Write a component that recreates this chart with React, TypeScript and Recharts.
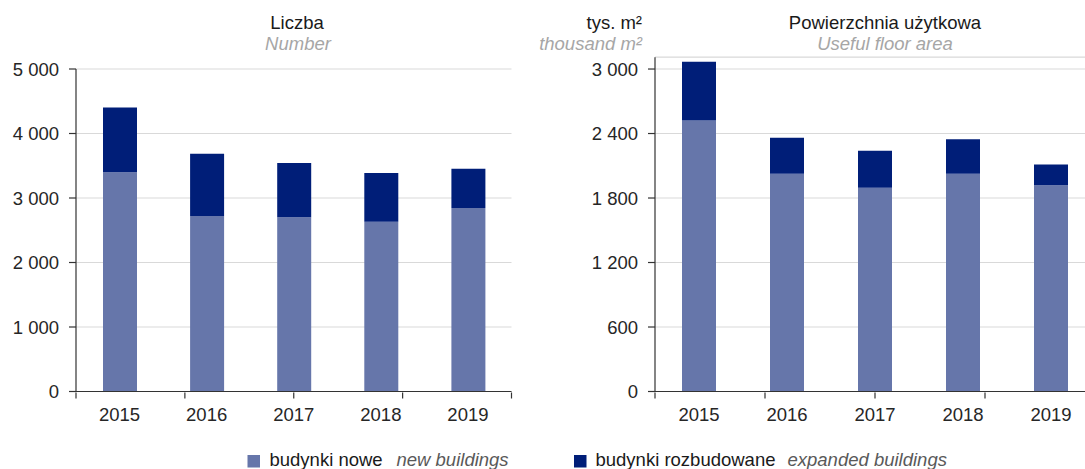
import React from 'react';
import { BarChart, Bar, XAxis, YAxis, CartesianGrid } from 'recharts';

const years = ['2015', '2016', '2017', '2018', '2019'];
const countNew = [3400, 2720, 2700, 2630, 2845];
const countExpanded = [1005, 967, 843, 758, 610];
const areaNew = [2520, 2025, 1895, 2025, 1918];
const areaExpanded = [548, 335, 344, 322, 194];
const countTicks = [0, 1000, 2000, 3000, 4000, 5000];
const areaTicks = [0, 600, 1200, 1800, 2400, 3000];
const edgeTicks = [0, 1, 2, 3, 4, 5];

const leftData = years.map((y, i) => ({ year: y, nowe: countNew[i], rozb: countExpanded[i] }));
const rightData = years.map((y, i) => ({ year: y, nowe: areaNew[i], rozb: areaExpanded[i] }));

const FONT = '"Liberation Sans", Arial, sans-serif';
const LIGHT = '#6676aa';
const DARK = '#001e78';
const AXIS = '#333333';
const fmt = (v: number) => String(v).replace(/\B(?=(\d{3})+(?!\d))/g, '\u00a0');
const EmptyTick = () => <g />;

function Panel({ data, ticks, max, top, left, width, yWidth, right }: any) {
  return (
    <div style={{ position: 'absolute', left, top: 0 }}>
      <BarChart
        width={width}
        height={469}
        data={data}
        margin={{ top, right, bottom: 75.5, left: 0 }}
        style={{ fontFamily: FONT }}
      >
        <CartesianGrid vertical={false} stroke="#d9d9d9" strokeWidth={1.2} />
        <XAxis
          dataKey="year"
          height={1}
          interval={0}
          axisLine={{ stroke: AXIS, strokeWidth: 1.2 }}
          tickLine={false}
          tickSize={0}
          tickMargin={16}
          tick={{ fill: '#262626', fontSize: 18.5, fontFamily: FONT }}
        />
        <XAxis
          xAxisId="edges"
          type="number"
          domain={[0, 5]}
          ticks={edgeTicks}
          interval={0}
          height={1}
          axisLine={false}
          tickLine={{ stroke: AXIS, strokeWidth: 1.2 }}
          tickSize={6}
          tick={EmptyTick}
        />
        <YAxis
          width={yWidth}
          domain={[0, max]}
          allowDataOverflow
          ticks={ticks}
          interval={0}
          tickFormatter={fmt}
          axisLine={{ stroke: AXIS, strokeWidth: 1.2 }}
          tickLine={{ stroke: AXIS, strokeWidth: 1.2 }}
          tickSize={7}
          tickMargin={10}
          tick={{ fill: '#262626', fontSize: 18.5, fontFamily: FONT }}
        />
        <Bar dataKey="nowe" stackId="a" fill={LIGHT} barSize={34} isAnimationActive={false} />
        <Bar dataKey="rozb" stackId="a" fill={DARK} barSize={34} isAnimationActive={false} />
      </BarChart>
    </div>
  );
}

export default function App() {
  return (
    <div
      style={{
        position: 'absolute',
        left: 0,
        top: 0,
        width: 1085,
        height: 469,
        overflow: 'hidden',
        background: '#ffffff',
        fontFamily: FONT,
      }}
    >
      <Panel data={leftData} ticks={countTicks} max={5000} top={69} left={0} width={540} yWidth={76} right={28.5} />
      <Panel data={rightData} ticks={areaTicks} max={3110} top={57.2} left={540} width={560} yWidth={115} right={5} />
      <svg
        width={1085}
        height={469}
        style={{ position: 'absolute', left: 0, top: 0, pointerEvents: 'none' }}
        fontFamily={FONT}
        fontSize={18.5}
      >
        <text x={297} y={29.3} textAnchor="middle" fill="#1a1a1a">Liczba</text>
        <text x={298} y={50} textAnchor="middle" fill="#a6a6a6" fontStyle="italic">Number</text>
        <text x={642} y={28.5} textAnchor="end" fill="#1a1a1a">tys. m²</text>
        <text x={642} y={49.5} textAnchor="end" fill="#a6a6a6" fontStyle="italic">thousand m²</text>
        <text x={885} y={28.5} textAnchor="middle" fill="#1a1a1a">Powierzchnia użytkowa</text>
        <text x={885} y={49.5} textAnchor="middle" fill="#a6a6a6" fontStyle="italic">Useful floor area</text>

        <rect x={247.5} y={455} width={12.5} height={12.5} fill={LIGHT} />
        <text x={269.5} y={466} fill="#1a1a1a">budynki nowe</text>
        <text x={396.5} y={466} fill="#595959" fontStyle="italic">new buildings</text>

        <rect x={574} y={455} width={12.5} height={12.5} fill={DARK} />
        <text x={595.5} y={466} fill="#1a1a1a">budynki rozbudowane</text>
        <text x={787.5} y={466} fill="#595959" fontStyle="italic">expanded buildings</text>
      </svg>
    </div>
  );
}
